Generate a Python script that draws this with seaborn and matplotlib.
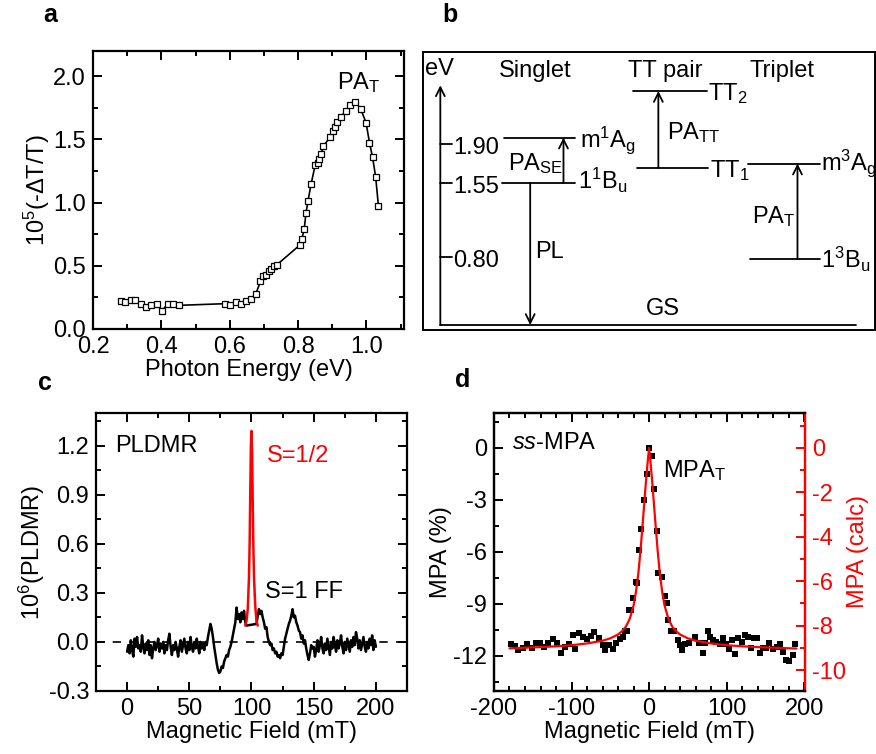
import numpy as np
import pandas as pd
import matplotlib
matplotlib.use("Agg")
import matplotlib.pyplot as plt
import seaborn as sns
from matplotlib.ticker import MultipleLocator

# ---- panel a: PA spectrum ----
energy_a = [0.281, 0.295, 0.310, 0.324, 0.339, 0.355, 0.370, 0.386, 0.401, 0.419, 0.434, 0.451,
            0.585, 0.600, 0.618, 0.633, 0.648, 0.662, 0.676, 0.690, 0.698, 0.707, 0.714, 0.722,
            0.730, 0.738, 0.806, 0.811, 0.818, 0.823, 0.829, 0.838, 0.850, 0.858, 0.861, 0.867,
            0.874, 0.893, 0.901, 0.908, 0.915, 0.925, 0.939, 0.953, 0.968, 0.983, 0.999, 1.009,
            1.018, 1.027, 1.035]
pa_a = [0.218, 0.213, 0.232, 0.232, 0.200, 0.174, 0.192, 0.200, 0.142, 0.200, 0.195, 0.187,
        0.200, 0.187, 0.216, 0.197, 0.218, 0.239, 0.276, 0.376, 0.416, 0.426, 0.455, 0.474,
        0.495, 0.508, 0.666, 0.711, 0.789, 0.916, 1.013, 1.145, 1.297, 1.316, 1.342, 1.382,
        1.447, 1.516, 1.566, 1.600, 1.639, 1.679, 1.724, 1.771, 1.797, 1.742, 1.632, 1.474,
        1.358, 1.205, 0.976]

# ---- panel b: energy level diagram (diagram units) ----
levels = [  # x0, x1, y
    (250, 465, 412), (245, 465, 548), (640, 860, 272),
    (650, 865, 503), (985, 1200, 490), (990, 1200, 777)]
level_names = ["m$^1$A$_\\mathrm{g}$", "1$^1$B$_\\mathrm{u}$", "TT$_2$", "TT$_1$",
               "m$^3$A$_\\mathrm{g}$", "1$^3$B$_\\mathrm{u}$"]
level_name_pos = [(480, 440), (475, 565), (865, 298), (870, 530), (1203, 510), (1203, 805)]
energy_ticks = ["1.90", "1.55", "0.80"]
energy_tick_y = [430, 548, 770]
transitions = [  # x, y_from, y_to
    (430, 548, 412), (715, 503, 272), (1133, 777, 490), (330, 548, 975), (60, 975, 255)]
diagram_texts = ["eV", "Singlet", "TT pair", "Triplet", "PA$_\\mathrm{SE}$", "PA$_\\mathrm{TT}$",
                 "PA$_\\mathrm{T}$", "PL", "GS"]
diagram_text_pos = [(15, 225), (235, 230), (625, 230), (990, 230), (262, 510), (740, 418),
                    (995, 668), (345, 775), (678, 945)]

# ---- panel c: PLDMR ----
field_c = np.arange(0, 201, 1.0)
pldmr_c = [
    -0.06, -0.02, -0.07, 0.01, -0.05, -0.09, 0.02, -0.03, 0.03, -0.04,
    -0.02, -0.06, 0.04, -0.03, -0.07, -0.01, -0.05, 0.01, -0.08, -0.02,
    -0.10, -0.04, 0.00, -0.05, -0.02, 0.02, -0.06, -0.01, -0.04, 0.00,
    -0.07, -0.02, -0.05, 0.01, 0.05, -0.03, -0.08, -0.02, -0.05, 0.00,
    -0.04, -0.09, -0.03, 0.01, -0.06, -0.02, 0.02, -0.04, -0.07, 0.00,
    -0.05, 0.03, -0.03, -0.06, 0.00, -0.04, 0.02, -0.03, -0.07, 0.00,
    -0.04, -0.01, -0.05, 0.00, -0.02, 0.03, 0.07, 0.11, 0.08, 0.03,
    -0.03, -0.08, -0.13, -0.17, -0.19, -0.18, -0.15, -0.16, -0.12, -0.10,
    -0.08, -0.09, -0.05, -0.03, 0.00, 0.04, 0.08, 0.12, 0.21, 0.14,
    0.17, 0.12, 0.18, 0.14, 0.19, 0.12, 0.10, np.nan, np.nan, np.nan,
    np.nan, np.nan, np.nan, np.nan, 0.11, 0.16, 0.20, 0.17, 0.19, 0.15,
    0.12, 0.08, 0.09, 0.03, 0.00, -0.02, -0.01, -0.05, -0.04, -0.07,
    -0.06, -0.09, -0.08, -0.10, -0.07, -0.08, -0.03, 0.02, 0.05, 0.08,
    0.11, 0.13, 0.16, 0.20, 0.15, 0.16, 0.12, 0.10, 0.07, 0.06,
    0.02, 0.04, -0.01, 0.01, -0.04, -0.08, -0.11, -0.07, -0.02, -0.04,
    -0.03, -0.09, -0.05, 0.01, -0.06, -0.02, 0.03, -0.04, -0.07, -0.01,
    -0.05, 0.02, -0.03, -0.08, 0.00, -0.04, 0.03, -0.02, -0.06, 0.01,
    -0.04, -0.01, 0.04, -0.03, -0.07, 0.00, -0.05, 0.02, -0.02, -0.06,
    0.01, -0.03, 0.03, -0.02, 0.06, 0.02, -0.04, 0.01, -0.05, -0.01,
    0.03, -0.03, -0.06, 0.00, -0.04, 0.02, -0.02, 0.04, -0.05, 0.01,
    -0.03]
field_half = [95, 96, 97, 98, 98.5, 99, 99.5, 100, 100.5, 101, 101.5, 102, 103, 104, 105]
pldmr_half = [0.10, 0.13, 0.20, 0.40, 0.60, 0.90, 1.20, 1.29, 1.15, 0.85, 0.58, 0.40, 0.22, 0.13, 0.10]

# ---- panel d: MPA ----
field_d = [-178.5, -173, -168.6, -163, -158, -151, -146, -140.6, -135.5, -130, -124, -119, -114,
           -108, -103, -98.5, -95.5, -90, -85, -80, -75, -71, -65, -60, -57, -51.6, -47, -42.6,
           -38, -34, -30.5, -29, -26, -23, -21, -17, -15.5, -13, -10.3, -6, -2.6, 0, 4.3, 6.9,
           10.3, 12, 17.2, 20, 22.8, 25, 28.4, 32.7, 37, 40, 43, 46.5, 52, 59, 65, 69, 72, 76,
           79, 82, 86.5, 91, 95, 99, 103.7, 106.7, 111, 115, 119.6, 124, 128, 131, 135.5, 139,
           143, 146.7, 151, 155, 159.6, 164.7, 169, 173, 177, 181, 185, 188]
mpa_d = [-11.33, -11.44, -11.67, -11.58, -11.33, -11.58, -11.25, -11.25, -11.48, -11.29, -11.06,
         -11.29, -11.83, -11.48, -11.33, -10.81, -11.63, -10.71, -10.94, -11.06, -10.87, -10.65,
         -10.96, -11.38, -11.67, -11.38, -11.63, -11.29, -11.06, -10.90, -10.56, -10.60, -9.37,
         -9.37, -8.65, -7.77, -7.80, -5.90, -4.70, -2.98, -1.48, 0.0, -0.48, -2.40, -4.80, -7.25,
         -7.44, -8.56, -8.98, -9.94, -10.56, -10.60, -11.10, -11.38, -11.67, -11.30, -11.25,
         -10.90, -11.25, -11.83, -11.29, -10.56, -10.90, -11.10, -11.20, -11.33, -11.00, -11.33,
         -11.63, -11.10, -11.90, -10.96, -11.20, -10.80, -10.90, -11.54, -11.00, -11.00, -11.87,
         -11.58, -11.58, -11.29, -11.63, -11.48, -11.33, -11.77, -12.25, -12.29, -11.96, -11.35]
field_fit = [-180, -150, -120, -100, -80, -60, -50, -40, -35, -30, -25, -20, -17, -14, -11, -8,
             -6, -4, -2, 0, 2, 4, 6, 8, 11, 14, 17, 20, 25, 30, 35, 40, 50, 60, 80, 100, 120,
             150, 190]
mpa_fit = [-9.02, -8.98, -8.93, -8.88, -8.80, -8.68, -8.57, -8.40, -8.25, -8.05, -7.70, -7.10,
           -6.50, -5.70, -4.60, -3.30, -2.40, -1.50, -0.70, 0.0, -0.70, -1.50, -2.40, -3.30,
           -4.60, -5.70, -6.50, -7.10, -7.70, -8.05, -8.25, -8.40, -8.57, -8.68, -8.80, -8.88,
           -8.93, -8.98, -9.03]

sns.set_theme(style="ticks")
TICK_FS = 17
LAB_FS = 17
plt.rcParams.update({
    'font.family': ['Liberation Sans', 'DejaVu Sans'],
    'mathtext.fontset': 'custom',
    'mathtext.rm': 'Liberation Sans',
    'mathtext.it': 'Liberation Sans:italic',
    'mathtext.bf': 'Liberation Sans:bold',
    'axes.unicode_minus': False,
    'axes.edgecolor': 'black',
    'axes.linewidth': 1.6,
    'xtick.labelsize': TICK_FS, 'ytick.labelsize': TICK_FS,
    'text.color': 'black', 'axes.labelcolor': 'black',
})


def inward_ticks(ax, sides, col='black'):
    # inward tick marks drawn as short lines in data units at the locator positions
    ax.tick_params(which='both', direction='in', length=0, pad=5, labelcolor=col)
    xa, xb = ax.get_xlim()
    ya, yb = ax.get_ylim()
    x0, x1 = sorted((xa, xb))
    y0, y1 = sorted((ya, yb))
    dx, dy = x1 - x0, y1 - y0
    for major, lx, ly in [(False, 0.018, 0.016), (True, 0.034, 0.030)]:
        xloc = ax.xaxis.get_major_locator() if major else ax.xaxis.get_minor_locator()
        yloc = ax.yaxis.get_major_locator() if major else ax.yaxis.get_minor_locator()
        for v in xloc.tick_values(x0, x1):
            if x0 - dx * 1e-6 <= v <= x1 + dx * 1e-6:
                if 'bottom' in sides:
                    ax.plot([v, v], [y0, y0 + lx * dy], color=col, lw=1.4,
                            solid_capstyle='butt', zorder=6)
                if 'top' in sides:
                    ax.plot([v, v], [y1, y1 - lx * dy], color=col, lw=1.4,
                            solid_capstyle='butt', zorder=6)
        for v in yloc.tick_values(y0, y1):
            if y0 - dy * 1e-6 <= v <= y1 + dy * 1e-6:
                if 'left' in sides:
                    ax.plot([x0, x0 + ly * dx], [v, v], color=col, lw=1.4,
                            solid_capstyle='butt', zorder=6)
                if 'right' in sides:
                    ax.plot([x1, x1 - ly * dx], [v, v], color=col, lw=1.4,
                            solid_capstyle='butt', zorder=6)
    ax.set_xlim(xa, xb)
    ax.set_ylim(ya, yb)


fig = plt.figure(figsize=(8.76, 7.54), dpi=100)
ax_a = fig.add_axes([0.1062, 0.5637, 0.355, 0.3687])
ax_b = fig.add_axes([0.4829, 0.5623, 0.516, 0.3687])
ax_c = fig.add_axes([0.1096, 0.0836, 0.355, 0.3687])
ax_d = fig.add_axes([0.5639, 0.0836, 0.355, 0.3687])

# panel a
sns.lineplot(x=energy_a, y=pa_a, ax=ax_a, color='black', lw=1.2, marker='s', markersize=4.5,
             markerfacecolor='white', markeredgecolor='black', markeredgewidth=0.9, sort=False)
ax_a.set_xlim(0.2, 1.11)
ax_a.set_ylim(0, 2.2)
ax_a.xaxis.set_major_locator(MultipleLocator(0.2))
ax_a.xaxis.set_minor_locator(MultipleLocator(0.1))
ax_a.yaxis.set_major_locator(MultipleLocator(0.5))
ax_a.yaxis.set_minor_locator(MultipleLocator(0.25))
ax_a.xaxis.set_major_formatter(plt.FormatStrFormatter('%.1f'))
ax_a.yaxis.set_major_formatter(plt.FormatStrFormatter('%.1f'))
inward_ticks(ax_a, ['bottom', 'top', 'left', 'right'])
ax_a.set_xlabel("Photon Energy (eV)", fontsize=LAB_FS, labelpad=1)
ax_a.set_ylabel("10$^5$(-ΔT/T)", fontsize=LAB_FS, labelpad=1)
ax_a.text(0.915, 1.9, "PA$_\\mathrm{T}$", fontsize=LAB_FS)

# panel b
ax_b.set_xlim(8, 1366)
ax_b.set_ylim(990, 155)
ax_b.tick_params(which='both', top=False, bottom=False, left=False, right=False,
                 labelbottom=False, labelleft=False)
for s in ax_b.spines.values():
    s.set_linewidth(1.4)
for (x0, x1, y) in levels:
    ax_b.plot([x0, x1], [y, y], color='black', lw=1.3)
for name, (tx, ty) in zip(level_names, level_name_pos):
    ax_b.text(tx, ty, name, fontsize=LAB_FS, va='baseline', clip_on=False)
for lab, ty in zip(energy_ticks, energy_tick_y):
    ax_b.plot([60, 95], [ty, ty], color='black', lw=1.3)
    ax_b.text(98, ty + 30, lab, fontsize=LAB_FS, va='baseline')
ax_b.plot([60, 1310], [975, 975], color='black', lw=1.3)
for (x, y0, y1) in transitions:
    ax_b.annotate('', xy=(x, y1), xytext=(x, y0),
                  arrowprops=dict(arrowstyle='->', lw=1.3, color='black',
                                  mutation_scale=16, shrinkA=0, shrinkB=0))
for t, (tx, ty) in zip(diagram_texts, diagram_text_pos):
    ax_b.text(tx, ty, t, fontsize=LAB_FS, va='baseline')

# panel c
ax_c.axhline(0, color='black', lw=1.2, ls=(0, (5, 5)))
sns.lineplot(x=field_c, y=pldmr_c, ax=ax_c, color='black', lw=1.8, sort=False)
sns.lineplot(x=field_half, y=pldmr_half, ax=ax_c, color='red', lw=1.8, sort=False)
ax_c.set_xlim(-25, 225)
ax_c.set_ylim(-0.3, 1.4)
ax_c.xaxis.set_major_locator(MultipleLocator(50))
ax_c.xaxis.set_minor_locator(MultipleLocator(25))
ax_c.yaxis.set_major_locator(MultipleLocator(0.3))
ax_c.yaxis.set_minor_locator(MultipleLocator(0.15))
ax_c.yaxis.set_major_formatter(plt.FormatStrFormatter('%.1f'))
inward_ticks(ax_c, ['bottom', 'top', 'left', 'right'])
ax_c.set_xlabel("Magnetic Field (mT)", fontsize=LAB_FS, labelpad=1)
ax_c.set_ylabel("10$^6$(PLDMR)", fontsize=LAB_FS, labelpad=1)
ax_c.text(-10, 1.16, "PLDMR", fontsize=LAB_FS)
ax_c.text(112, 1.10, "S=1/2", fontsize=LAB_FS, color='red')
ax_c.text(111, 0.27, "S=1 FF", fontsize=LAB_FS)

# panel d
sns.scatterplot(x=field_d, y=mpa_d, ax=ax_d, color='black', marker='s', s=20,
                edgecolor='black', linewidth=0, zorder=3)
ax_d.set_xlim(-200, 201)
ax_d.set_ylim(-14.04, 2.02)
ax_d.xaxis.set_major_locator(MultipleLocator(100))
ax_d.xaxis.set_minor_locator(MultipleLocator(20))
ax_d.yaxis.set_major_locator(MultipleLocator(3))
ax_d.yaxis.set_minor_locator(MultipleLocator(1.5))
inward_ticks(ax_d, ['bottom', 'top', 'left'])
ax_d.set_xlabel("Magnetic Field (mT)", fontsize=LAB_FS, labelpad=1)
ax_d.set_ylabel("MPA (%)", fontsize=LAB_FS, labelpad=1)
ax_d.text(-177, -0.04, "$\\mathit{ss}$-MPA", fontsize=LAB_FS)
ax_d.text(18.5, -1.67, "MPA$_\\mathrm{T}$", fontsize=LAB_FS)

ax_r = ax_d.twinx()
sns.lineplot(x=field_fit, y=mpa_fit, ax=ax_r, color='red', lw=1.6, sort=False, zorder=4)
ax_r.set_xlim(-200, 201)
ax_r.set_ylim(-10.94, 1.575)
ax_r.yaxis.set_major_locator(MultipleLocator(2))
ax_r.yaxis.set_minor_locator(MultipleLocator(1))
ax_r.spines['right'].set_color('red')
ax_d.spines['right'].set_color('red')
inward_ticks(ax_r, ['right'], col='red')
ax_r.set_ylabel("MPA (calc)", fontsize=LAB_FS, color='red', labelpad=1)

# panel letters
for lab, (fx, fy) in zip(["a", "b", "c", "d"], [(43, 15), (442, 15), (38, 383), (455, 380)]):
    fig.text(fx / 876, 1 - fy / 754, lab, fontsize=18, fontweight='bold', va='center')

fig.savefig("out.png", dpi=100)
